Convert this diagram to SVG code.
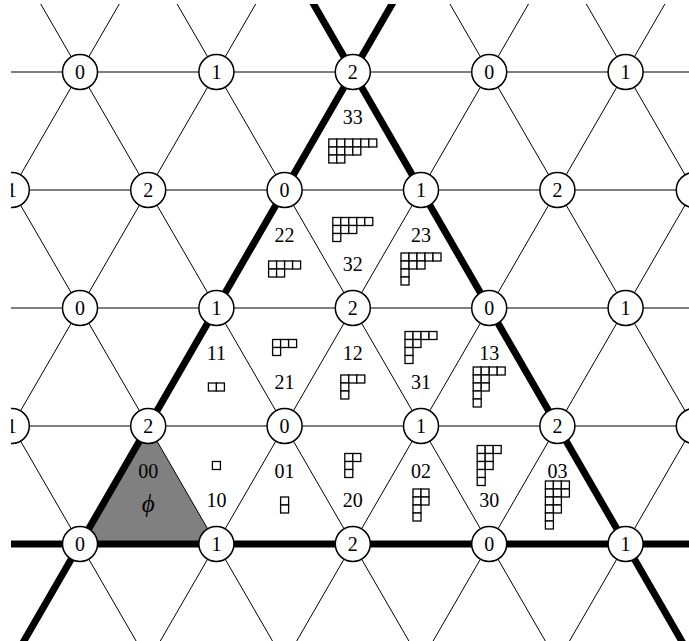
<svg xmlns="http://www.w3.org/2000/svg" width="689" height="641" viewBox="0 0 689 641">
<style>
.thin{stroke:#000;stroke-width:1;fill:none}
.thick{stroke:#000;stroke-width:7;fill:none}
.node circle{fill:#fff;stroke:#000;stroke-width:1.5}
.node text,.lab{font-family:"Liberation Serif","Times New Roman",serif;font-size:20px;text-anchor:middle;fill:#000}
.cell{fill:#fff;stroke:#000;stroke-width:1.3}
.phi{font-family:"Liberation Serif","Times New Roman",serif;font-size:25px;font-style:italic;text-anchor:middle;fill:#000}
</style>
<defs>
<clipPath id="clip"><rect x="11" y="4" width="678" height="637"/></clipPath>
<rect id="c" class="cell" width="8" height="8"/>
</defs>
<rect width="689" height="641" fill="#fff"/>
<g clip-path="url(#clip)">
<polygon id="shade" points="80,544 148.2,426 216.4,544" fill="#808080"/>
<g id="connectors">
<g class="thin">
<line x1="0" y1="72" x2="689" y2="72"/>
<line x1="0" y1="190" x2="689" y2="190"/>
<line x1="0" y1="308" x2="689" y2="308"/>
<line x1="0" y1="426" x2="689" y2="426"/>
<line x1="150.5" y1="-50" x2="-283" y2="700"/>
<line x1="286.9" y1="-50" x2="-146.6" y2="700"/>
<line x1="559.7" y1="-50" x2="126.2" y2="700"/>
<line x1="696.1" y1="-50" x2="262.6" y2="700"/>
<line x1="832.5" y1="-50" x2="399" y2="700"/>
<line x1="968.9" y1="-50" x2="535.4" y2="700"/>
<line x1="1105.3" y1="-50" x2="671.8" y2="700"/>
<line x1="-399.7" y1="-50" x2="33.8" y2="700"/>
<line x1="-263.3" y1="-50" x2="170.2" y2="700"/>
<line x1="-126.9" y1="-50" x2="306.6" y2="700"/>
<line x1="9.5" y1="-50" x2="443" y2="700"/>
<line x1="145.9" y1="-50" x2="579.4" y2="700"/>
<line x1="418.7" y1="-50" x2="852.2" y2="700"/>
<line x1="555.1" y1="-50" x2="988.6" y2="700"/>
<line x1="691.5" y1="-50" x2="1125" y2="700"/>
</g>
<g class="thick">
<line x1="0" y1="544" x2="689" y2="544"/>
<line x1="423.3" y1="-50" x2="-10.2" y2="700"/>
<line x1="282.3" y1="-50" x2="715.8" y2="700"/>
</g>
</g>
<g id="n_r0_0" class="node"><circle cx="80" cy="72" r="17.5"/><text x="80" y="79">0</text></g>
<g id="n_r0_1" class="node"><circle cx="216.4" cy="72" r="17.5"/><text x="216.4" y="79">1</text></g>
<g id="n_r0_2" class="node"><circle cx="352.8" cy="72" r="17.5"/><text x="352.8" y="79">2</text></g>
<g id="n_r0_3" class="node"><circle cx="489.2" cy="72" r="17.5"/><text x="489.2" y="79">0</text></g>
<g id="n_r0_4" class="node"><circle cx="625.6" cy="72" r="17.5"/><text x="625.6" y="79">1</text></g>
<g id="n_r1_0" class="node"><circle cx="11.8" cy="190" r="17.5"/><text x="11.8" y="197">1</text></g>
<g id="n_r1_1" class="node"><circle cx="148.2" cy="190" r="17.5"/><text x="148.2" y="197">2</text></g>
<g id="n_r1_2" class="node"><circle cx="284.6" cy="190" r="17.5"/><text x="284.6" y="197">0</text></g>
<g id="n_r1_3" class="node"><circle cx="421" cy="190" r="17.5"/><text x="421" y="197">1</text></g>
<g id="n_r1_4" class="node"><circle cx="557.4" cy="190" r="17.5"/><text x="557.4" y="197">2</text></g>
<g id="n_r1_5" class="node"><circle cx="693.8" cy="190" r="17.5"/></g>
<g id="n_r2_0" class="node"><circle cx="80" cy="308" r="17.5"/><text x="80" y="315">0</text></g>
<g id="n_r2_1" class="node"><circle cx="216.4" cy="308" r="17.5"/><text x="216.4" y="315">1</text></g>
<g id="n_r2_2" class="node"><circle cx="352.8" cy="308" r="17.5"/><text x="352.8" y="315">2</text></g>
<g id="n_r2_3" class="node"><circle cx="489.2" cy="308" r="17.5"/><text x="489.2" y="315">0</text></g>
<g id="n_r2_4" class="node"><circle cx="625.6" cy="308" r="17.5"/><text x="625.6" y="315">1</text></g>
<g id="n_r3_0" class="node"><circle cx="11.8" cy="426" r="17.5"/><text x="11.8" y="433">1</text></g>
<g id="n_r3_1" class="node"><circle cx="148.2" cy="426" r="17.5"/><text x="148.2" y="433">2</text></g>
<g id="n_r3_2" class="node"><circle cx="284.6" cy="426" r="17.5"/><text x="284.6" y="433">0</text></g>
<g id="n_r3_3" class="node"><circle cx="421" cy="426" r="17.5"/><text x="421" y="433">1</text></g>
<g id="n_r3_4" class="node"><circle cx="557.4" cy="426" r="17.5"/><text x="557.4" y="433">2</text></g>
<g id="n_r3_5" class="node"><circle cx="693.8" cy="426" r="17.5"/></g>
<g id="n_r4_0" class="node"><circle cx="80" cy="544" r="17.5"/><text x="80" y="551">0</text></g>
<g id="n_r4_1" class="node"><circle cx="216.4" cy="544" r="17.5"/><text x="216.4" y="551">1</text></g>
<g id="n_r4_2" class="node"><circle cx="352.8" cy="544" r="17.5"/><text x="352.8" y="551">2</text></g>
<g id="n_r4_3" class="node"><circle cx="489.2" cy="544" r="17.5"/><text x="489.2" y="551">0</text></g>
<g id="n_r4_4" class="node"><circle cx="625.6" cy="544" r="17.5"/><text x="625.6" y="551">1</text></g>
</g>
<g id="t00"><text class="lab" x="148.2" y="478.3">00</text><text class="phi" x="148.2" y="512">ϕ</text></g>
<g id="t10"><text class="lab" x="216.4" y="506.8">10</text>
<use href="#c" x="212.4" y="461.5"/></g>
<g id="t01"><text class="lab" x="284.6" y="478.3">01</text>
<use href="#c" x="280.6" y="497"/><use href="#c" x="280.6" y="505"/></g>
<g id="t20"><text class="lab" x="352.8" y="506.8">20</text>
<use href="#c" x="344.8" y="453.5"/><use href="#c" x="352.8" y="453.5"/><use href="#c" x="344.8" y="461.5"/><use href="#c" x="344.8" y="469.5"/></g>
<g id="t02"><text class="lab" x="421" y="478.3">02</text>
<use href="#c" x="413" y="489"/><use href="#c" x="421" y="489"/><use href="#c" x="413" y="497"/><use href="#c" x="421" y="497"/><use href="#c" x="413" y="505"/><use href="#c" x="413" y="513"/></g>
<g id="t30"><text class="lab" x="489.2" y="506.8">30</text>
<use href="#c" x="477.2" y="445.5"/><use href="#c" x="485.2" y="445.5"/><use href="#c" x="493.2" y="445.5"/>
<use href="#c" x="477.2" y="453.5"/><use href="#c" x="485.2" y="453.5"/>
<use href="#c" x="477.2" y="461.5"/><use href="#c" x="485.2" y="461.5"/>
<use href="#c" x="477.2" y="469.5"/><use href="#c" x="477.2" y="477.5"/></g>
<g id="t03"><text class="lab" x="557.4" y="478.3">03</text>
<use href="#c" x="545.4" y="481"/><use href="#c" x="553.4" y="481"/><use href="#c" x="561.4" y="481"/>
<use href="#c" x="545.4" y="489"/><use href="#c" x="553.4" y="489"/><use href="#c" x="561.4" y="489"/>
<use href="#c" x="545.4" y="497"/><use href="#c" x="553.4" y="497"/>
<use href="#c" x="545.4" y="505"/><use href="#c" x="553.4" y="505"/>
<use href="#c" x="545.4" y="513"/><use href="#c" x="545.4" y="521"/></g>
<g id="t11"><text class="lab" x="216.4" y="360.3">11</text>
<use href="#c" x="208.4" y="383"/><use href="#c" x="216.4" y="383"/></g>
<g id="t21"><text class="lab" x="284.6" y="388.8">21</text>
<use href="#c" x="272.6" y="339.5"/><use href="#c" x="280.6" y="339.5"/><use href="#c" x="288.6" y="339.5"/><use href="#c" x="272.6" y="347.5"/></g>
<g id="t12"><text class="lab" x="352.8" y="360.3">12</text>
<use href="#c" x="340.8" y="375"/><use href="#c" x="348.8" y="375"/><use href="#c" x="356.8" y="375"/><use href="#c" x="340.8" y="383"/><use href="#c" x="340.8" y="391"/></g>
<g id="t31"><text class="lab" x="421" y="388.8">31</text>
<use href="#c" x="405" y="331.5"/><use href="#c" x="413" y="331.5"/><use href="#c" x="421" y="331.5"/><use href="#c" x="429" y="331.5"/>
<use href="#c" x="405" y="339.5"/><use href="#c" x="413" y="339.5"/>
<use href="#c" x="405" y="347.5"/><use href="#c" x="405" y="355.5"/></g>
<g id="t13"><text class="lab" x="489.2" y="360.3">13</text>
<use href="#c" x="473.2" y="367"/><use href="#c" x="481.2" y="367"/><use href="#c" x="489.2" y="367"/><use href="#c" x="497.2" y="367"/>
<use href="#c" x="473.2" y="375"/><use href="#c" x="481.2" y="375"/>
<use href="#c" x="473.2" y="383"/><use href="#c" x="481.2" y="383"/>
<use href="#c" x="473.2" y="391"/><use href="#c" x="473.2" y="399"/></g>
<g id="t22"><text class="lab" x="284.6" y="242.3">22</text>
<use href="#c" x="268.6" y="261"/><use href="#c" x="276.6" y="261"/><use href="#c" x="284.6" y="261"/><use href="#c" x="292.6" y="261"/>
<use href="#c" x="268.6" y="269"/><use href="#c" x="276.6" y="269"/></g>
<g id="t32"><text class="lab" x="352.8" y="270.8">32</text>
<use href="#c" x="332.8" y="217.5"/><use href="#c" x="340.8" y="217.5"/><use href="#c" x="348.8" y="217.5"/><use href="#c" x="356.8" y="217.5"/><use href="#c" x="364.8" y="217.5"/>
<use href="#c" x="332.8" y="225.5"/><use href="#c" x="340.8" y="225.5"/><use href="#c" x="348.8" y="225.5"/>
<use href="#c" x="332.8" y="233.5"/></g>
<g id="t23"><text class="lab" x="421" y="242.3">23</text>
<use href="#c" x="401" y="253"/><use href="#c" x="409" y="253"/><use href="#c" x="417" y="253"/><use href="#c" x="425" y="253"/><use href="#c" x="433" y="253"/>
<use href="#c" x="401" y="261"/><use href="#c" x="409" y="261"/><use href="#c" x="417" y="261"/>
<use href="#c" x="401" y="269"/><use href="#c" x="401" y="277"/></g>
<g id="t33"><text class="lab" x="352.8" y="124.3">33</text>
<use href="#c" x="328.8" y="139"/><use href="#c" x="336.8" y="139"/><use href="#c" x="344.8" y="139"/><use href="#c" x="352.8" y="139"/><use href="#c" x="360.8" y="139"/><use href="#c" x="368.8" y="139"/>
<use href="#c" x="328.8" y="147"/><use href="#c" x="336.8" y="147"/><use href="#c" x="344.8" y="147"/><use href="#c" x="352.8" y="147"/>
<use href="#c" x="328.8" y="155"/><use href="#c" x="336.8" y="155"/></g>
</svg>
